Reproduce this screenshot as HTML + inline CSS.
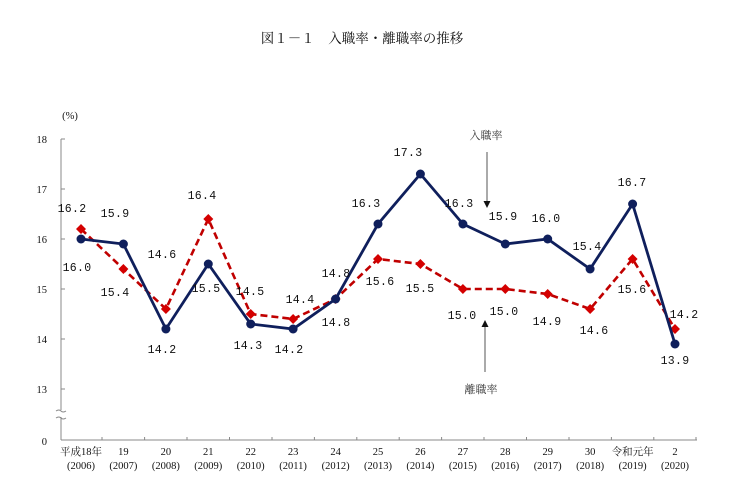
<!DOCTYPE html>
<html><head><meta charset="utf-8"><style>
html,body{margin:0;padding:0;background:#fff;width:730px;height:485px;overflow:hidden}
svg{display:block}
text{font-family:"Liberation Serif","Noto Serif CJK SC","Noto Sans CJK JP",serif;fill:#111}
text.n{font-size:11.5px;text-anchor:middle;font-family:"Liberation Mono",monospace !important;letter-spacing:0.3px}
.ax{font-size:10.5px;text-anchor:middle}
.y{font-size:10.5px;text-anchor:end}
</style></head><body>
<svg width="730" height="485" viewBox="0 0 730 485">
<text x="362" y="43" style="font-size:13.5px;text-anchor:middle">図１－１　入職率・離職率の推移</text>
<text x="70" y="119" class="ax">(%)</text>
<g class="y">
<text x="47" y="143">18</text><text x="47" y="193">17</text><text x="47" y="243">16</text>
<text x="47" y="293">15</text><text x="47" y="343">14</text><text x="47" y="393">13</text><text x="47" y="445">0</text>
</g>
<g stroke="#888" stroke-width="1" fill="none">
<line x1="61" y1="139" x2="61" y2="410"/>
<line x1="61" y1="417" x2="61" y2="440"/>
<path d="M56 411 q3 -2 5 0 t5 0 M56 418 q3 -2 5 0 t5 0"/>
<line x1="61" y1="440" x2="697" y2="440"/>
<path d="M61 139h4M61 189h4M61 239h4M61 289h4M61 339h4M61 389h4"/>
<path d="M102 440v-3M144.6 440v-3M187 440v-3M229.5 440v-3M272 440v-3M314.4 440v-3M356.8 440v-3M399.2 440v-3M441.6 440v-3M484 440v-3M526.5 440v-3M569 440v-3M611.4 440v-3M653.8 440v-3M696 440v-3"/>
</g>
<g class="ax">
<text x="81" y="455">平成18年</text><text x="81" y="469">(2006)</text>
<text x="123.4" y="455">19</text><text x="123.4" y="469">(2007)</text>
<text x="165.9" y="455">20</text><text x="165.9" y="469">(2008)</text>
<text x="208.3" y="455">21</text><text x="208.3" y="469">(2009)</text>
<text x="250.7" y="455">22</text><text x="250.7" y="469">(2010)</text>
<text x="293.1" y="455">23</text><text x="293.1" y="469">(2011)</text>
<text x="335.6" y="455">24</text><text x="335.6" y="469">(2012)</text>
<text x="378" y="455">25</text><text x="378" y="469">(2013)</text>
<text x="420.4" y="455">26</text><text x="420.4" y="469">(2014)</text>
<text x="462.9" y="455">27</text><text x="462.9" y="469">(2015)</text>
<text x="505.3" y="455">28</text><text x="505.3" y="469">(2016)</text>
<text x="547.7" y="455">29</text><text x="547.7" y="469">(2017)</text>
<text x="590.1" y="455">30</text><text x="590.1" y="469">(2018)</text>
<text x="632.6" y="455">令和元年</text><text x="632.6" y="469">(2019)</text>
<text x="675" y="455">2</text><text x="675" y="469">(2020)</text>
</g>
<polyline fill="none" stroke="#c00000" stroke-width="2.6" stroke-dasharray="7,4" points="81,229 123.4,269 165.9,309 208.3,219 250.7,314 293.1,319 335.6,299 378,259 420.4,264 462.9,289 505.3,289 547.7,294 590.1,309 632.6,259 675,329"/>
<g fill="#d40000">
<path d="M81 224l5 5-5 5-5-5z M123.4 264l5 5-5 5-5-5z M165.9 304l5 5-5 5-5-5z M208.3 214l5 5-5 5-5-5z M250.7 309l5 5-5 5-5-5z M293.1 314l5 5-5 5-5-5z M335.6 294l5 5-5 5-5-5z M378 254l5 5-5 5-5-5z M420.4 259l5 5-5 5-5-5z M462.9 284l5 5-5 5-5-5z M505.3 284l5 5-5 5-5-5z M547.7 289l5 5-5 5-5-5z M590.1 304l5 5-5 5-5-5z M632.6 254l5 5-5 5-5-5z M675 324l5 5-5 5-5-5z"/>
</g>
<polyline fill="none" stroke="#0f1f5c" stroke-width="2.8" points="81,239 123.4,244 165.9,329 208.3,264 250.7,324 293.1,329 335.6,299 378,224 420.4,174 462.9,224 505.3,244 547.7,239 590.1,269 632.6,204 675,344"/>
<g fill="#0f1f5c">
<circle cx="81" cy="239" r="4.5"/><circle cx="123.4" cy="244" r="4.5"/><circle cx="165.9" cy="329" r="4.5"/><circle cx="208.3" cy="264" r="4.5"/><circle cx="250.7" cy="324" r="4.5"/><circle cx="293.1" cy="329" r="4.5"/><circle cx="335.6" cy="299" r="4.5"/><circle cx="378" cy="224" r="4.5"/><circle cx="420.4" cy="174" r="4.5"/><circle cx="462.9" cy="224" r="4.5"/><circle cx="505.3" cy="244" r="4.5"/><circle cx="547.7" cy="239" r="4.5"/><circle cx="590.1" cy="269" r="4.5"/><circle cx="632.6" cy="204" r="4.5"/><circle cx="675" cy="344" r="4.5"/>
</g>
<g>
<text class="n" x="77" y="271">16.0</text><text class="n" x="115" y="217">15.9</text><text class="n" x="162" y="353">14.2</text><text class="n" x="206" y="292">15.5</text><text class="n" x="248" y="349">14.3</text><text class="n" x="289" y="353">14.2</text><text class="n" x="336" y="326">14.8</text><text class="n" x="366" y="207">16.3</text><text class="n" x="408" y="156">17.3</text><text class="n" x="459" y="207">16.3</text><text class="n" x="503" y="220">15.9</text><text class="n" x="546" y="222">16.0</text><text class="n" x="587" y="250">15.4</text><text class="n" x="632" y="186">16.7</text><text class="n" x="675" y="364">13.9</text>
<text class="n" x="72" y="212">16.2</text><text class="n" x="115" y="296">15.4</text><text class="n" x="162" y="258">14.6</text><text class="n" x="202" y="199">16.4</text><text class="n" x="250" y="295">14.5</text><text class="n" x="300" y="303">14.4</text><text class="n" x="336" y="277">14.8</text><text class="n" x="380" y="285">15.6</text><text class="n" x="420" y="292">15.5</text><text class="n" x="462" y="319">15.0</text><text class="n" x="504" y="315">15.0</text><text class="n" x="547" y="325">14.9</text><text class="n" x="594" y="334">14.6</text><text class="n" x="632" y="293">15.6</text><text class="n" x="684" y="318">14.2</text>
</g>
<text x="486" y="139" style="font-size:11px;text-anchor:middle;fill:#333">入職率</text>
<line x1="487" y1="152" x2="487" y2="202" stroke="#555" stroke-width="1"/>
<path d="M483.5 201h7l-3.5 7z" fill="#111"/>
<text x="481" y="393" style="font-size:11px;text-anchor:middle;fill:#333">離職率</text>
<line x1="485" y1="372" x2="485" y2="326" stroke="#555" stroke-width="1"/>
<path d="M481.5 327h7l-3.5 -7z" fill="#111"/>
</svg>
</body></html>
